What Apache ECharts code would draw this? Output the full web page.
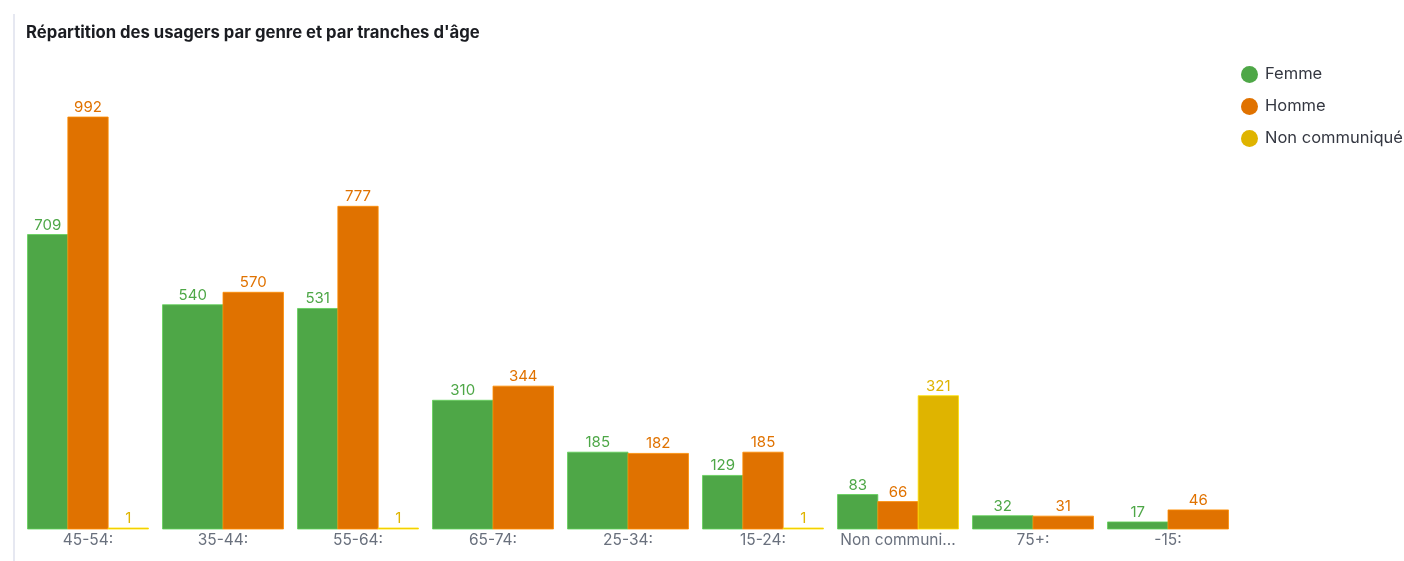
<!DOCTYPE html>
<html>
<head>
<meta charset="utf-8">
<script src="https://cdn.jsdelivr.net/npm/echarts@6/dist/echarts.min.js"></script>
<style>
html,body{margin:0;padding:0;background:#fff;}
#c{width:1404px;height:561px;}
</style>
</head>
<body>
<div id="c"></div>
<script>
const categories = ["45-54", "35-44", "55-64", "65-74", "25-34", "15-24", "Non communiqué", "75+", "-15"];
const femme = [709, 540, 531, 310, 185, 129, 83, 32, 17];
const homme = [992, 570, 777, 344, 182, 185, 66, 31, 46];
const nonCommunique = [1, null, 1, null, null, 1, 321, null, null];
const seriesNames = ["Femme", "Homme", "Non communiqué"];
const seriesColors = ["#4ea747", "#e07200", "#dfb400"];
const seriesData = [femme, homme, nonCommunique];

function presentList(i) {
  const list = [];
  seriesData.forEach((arr, s) => { if (arr[i] !== null && arr[i] !== undefined) list.push(s); });
  return list;
}

function makeRender(s) {
  return function (params, api) {
    const i = api.value(0);
    const v = api.value(1);
    const present = presentList(i);
    const k = present.indexOf(s);
    const n = present.length;
    const band = api.size([1, 0])[0];
    const gw = band * 0.896;
    const bw = gw / n;
    const base = api.coord([i, 0]);
    const top = api.coord([i, v]);
    const x = base[0] - gw / 2 + k * bw;
    let h = base[1] - top[1];
    if (h < 1) h = 1;
    const color = seriesColors[s];
    return {
      type: 'group',
      children: [
        {
          type: 'rect',
          shape: { x: x, y: base[1] - h, width: bw, height: h },
          style: { fill: color, stroke: echarts.color.lift(color, -0.25), lineWidth: 0.8 }
        },
        {
          type: 'text',
          style: {
            text: String(v),
            x: x + bw / 2,
            y: base[1] - h - 2,
            align: 'center',
            verticalAlign: 'bottom',
            fill: color,
            font: '15px Inter, "Noto Sans", sans-serif'
          }
        }
      ]
    };
  };
}

const series = seriesNames.map((name, s) => ({
  name: name,
  type: 'custom',
  renderItem: makeRender(s),
  itemStyle: { color: seriesColors[s] },
  encode: { x: 0, y: 1 },
  data: seriesData[s].map((v, i) => (v === null ? null : [i, v])).filter(d => d !== null)
}));

const chart = echarts.init(document.getElementById('c'));
chart.setOption({
  animation: false,
  title: {
    text: "Répartition des usagers par genre et par tranches d'âge",
    left: 21, top: 19,
    textStyle: { fontFamily: 'Inter, "Noto Sans", sans-serif', fontSize: 16.7, fontWeight: 'bold', color: '#1a1c21' }
  },
  graphic: [{
    type: 'rect', left: 13, top: 14,
    shape: { width: 2, height: 547 },
    style: { fill: '#e6e8f1' }
  }],
  legend: {
    orient: 'vertical',
    left: 1236, top: 61,
    itemGap: 15,
    icon: 'circle',
    itemWidth: 17, itemHeight: 17,
    textStyle: { fontFamily: 'Inter, "Noto Sans", sans-serif', fontSize: 16.5, color: '#343741', padding: [0, 0, 0, 2] },
    data: seriesNames
  },
  grid: { left: 20.5, right: 168.5, top: 113.7, bottom: 32 },
  xAxis: {
    type: 'category',
    data: categories,
    axisLine: { show: false },
    axisTick: { show: false },
    axisLabel: {
      margin: 3,
      interval: 0,
      fontFamily: 'Inter, "Noto Sans", sans-serif',
      fontSize: 15.5,
      color: '#69707d',
      width: 120,
      overflow: 'truncate',
      formatter: v => v + ':'
    }
  },
  yAxis: {
    type: 'value', min: 0, max: 1000, show: false,
    splitLine: { show: false }
  },
  series: series
});
</script>
</body>
</html>
